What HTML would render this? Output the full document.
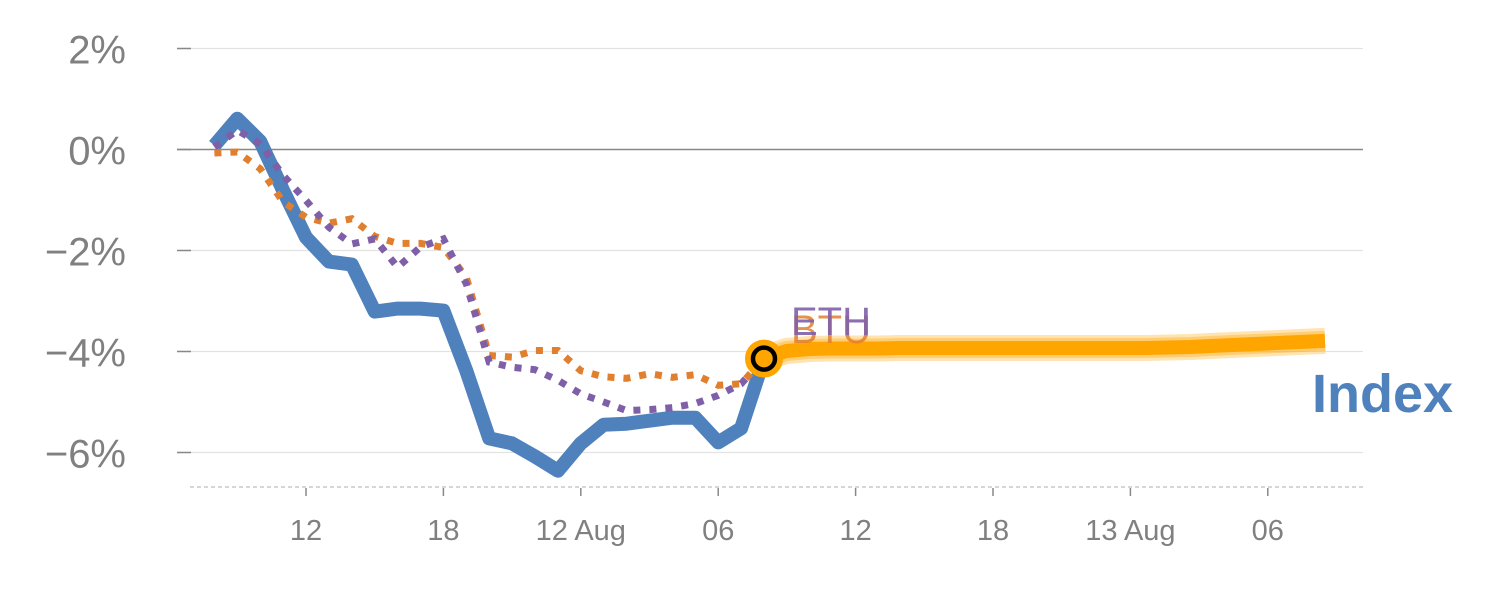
<!DOCTYPE html>
<html><head><meta charset="utf-8"><style>
html,body{margin:0;padding:0;background:#fff;}
svg{display:block;font-family:"Liberation Sans",Arial,sans-serif;}
</style></head><body>
<svg id="chart" width="1500" height="600" viewBox="0 0 1500 600"></svg>
<script>
const yTicks = [2, 0, -2, -4, -6];
const yTickLabels = ["2%", "0%", "\u22122%", "\u22124%", "\u22126%"];
const xTickHours = [4, 10, 16, 22, 28, 34, 40, 46];
const xTickLabels = ["12", "18", "12 Aug", "06", "12", "18", "13 Aug", "06"];
const indexValues = [0.08,0.61,0.16,-0.81,-1.74,-2.22,-2.28,-3.21,-3.15,-3.15,-3.19,-4.38,-5.72,-5.82,-6.08,-6.36,-5.82,-5.45,-5.43,-5.37,-5.31,-5.31,-5.80,-5.52,-4.14];
const ethValues = [0.05,0.38,0.11,-0.51,-1.01,-1.54,-1.87,-1.77,-2.33,-1.93,-1.77,-2.66,-4.21,-4.31,-4.36,-4.57,-4.84,-5.00,-5.17,-5.15,-5.11,-5.03,-4.87,-4.64,-4.14];
const btuValues = [-0.07,-0.05,-0.38,-1.04,-1.34,-1.46,-1.37,-1.72,-1.86,-1.86,-1.94,-2.53,-4.08,-4.11,-3.98,-3.98,-4.38,-4.50,-4.53,-4.44,-4.51,-4.46,-4.67,-4.64,-4.14];
const forecastValues = [-4.14,-3.99,-3.95,-3.94,-3.94,-3.94,-3.93,-3.93,-3.93,-3.93,-3.93,-3.93,-3.93,-3.93,-3.93,-3.93,-3.93,-3.93,-3.92,-3.91,-3.89,-3.87,-3.85,-3.83,-3.81,-3.79];

const svg = document.getElementById('chart');
const NS = 'http://www.w3.org/2000/svg';
const x = h => 214.4 + h * 22.9;
const y = v => 149.5 - v * 50.5;
function mk(tag, attrs, parent) {
  const e = document.createElementNS(NS, tag);
  for (const k in attrs) e.setAttribute(k, attrs[k]);
  (parent || svg).appendChild(e);
  return e;
}
yTicks.forEach((v, i) => {
  const g = mk('line', {x1:177, x2:1363, y1:y(v), y2:y(v), stroke: v===0 ? '#888' : '#e3e3e3', 'stroke-width': v===0 ? 1.5 : 1.2});
  
  
  const tk = mk('line', {x1:177, x2:191, y1:y(v), y2:y(v), stroke:'#888', 'stroke-width':1.5});
  
  
  const t = mk('text', {x:126, y:y(v)+15, 'text-anchor':'end', 'font-size':40, fill:'#808080'});
  t.textContent = yTickLabels[i];
  
  
});
const ax = mk('line', {x1:190, x2:1365, y1:487, y2:487, stroke:'#d6d6d6', 'stroke-width':2, 'stroke-dasharray':'4 3'});


xTickHours.forEach((h, i) => {
  const tk = mk('line', {x1:x(h), x2:x(h), y1:488, y2:496, stroke:'#888', 'stroke-width':1.5});
  
  
  const t = mk('text', {x:x(h), y:540, 'text-anchor':'middle', 'font-size':29, fill:'#808080'});
  t.textContent = xTickLabels[i];
  
  
});
function pts(vals, off, step) { step = step || 1; return vals.map((v, i) => x(off + i*step).toFixed(1) + ',' + y(v).toFixed(1)).join(' '); }
const fstep = 24.5 / (forecastValues.length - 1);
const fc1 = mk('polyline', {points: pts(forecastValues, 24, fstep), fill:'none', stroke:'#ffa500', 'stroke-opacity':0.3, 'stroke-width':26, 'stroke-linejoin':'round'});


const fc2 = mk('polyline', {points: pts(forecastValues, 24, fstep), fill:'none', stroke:'#ffa500', 'stroke-opacity':0.35, 'stroke-width':20, 'stroke-linejoin':'round'});


const fc = mk('polyline', {points: pts(forecastValues, 24, fstep), fill:'none', stroke:'#ffa500', 'stroke-width':14, 'stroke-linejoin':'round'});


const il = mk('polyline', {points: pts(indexValues, 0), fill:'none', stroke:'#4f81bd', 'stroke-width':14, 'stroke-linejoin':'round'});


const bl = mk('polyline', {points: pts(btuValues, 0), fill:'none', stroke:'#e07f2e', 'stroke-width':7, 'stroke-dasharray':'7 9'});


const el = mk('polyline', {points: pts(ethValues, 0), fill:'none', stroke:'#7f5fa8', 'stroke-width':7, 'stroke-dasharray':'7 9'});


const m = mk('circle', {cx:x(24), cy:y(indexValues[24]), r:16, fill:'#ffa500', stroke:'#ffa500', 'stroke-width':6});


const m2 = mk('circle', {cx:x(24), cy:y(indexValues[24]), r:11, fill:'#ffa500', stroke:'#000', 'stroke-width':4.5});


const bt = mk('text', {x:791, y:343, 'font-size':40, fill:'#e07f2e', 'fill-opacity':0.85});
bt.textContent = 'BTU';


const et = mk('text', {x:791, y:335, 'font-size':40, fill:'#7f5fa8', 'fill-opacity':0.9});
et.textContent = 'ETH';


const ix = mk('text', {x:1312, y:412, 'font-size':54, 'font-weight':'bold', fill:'#4f81bd'});
ix.textContent = 'Index';


</script>
</body></html>
